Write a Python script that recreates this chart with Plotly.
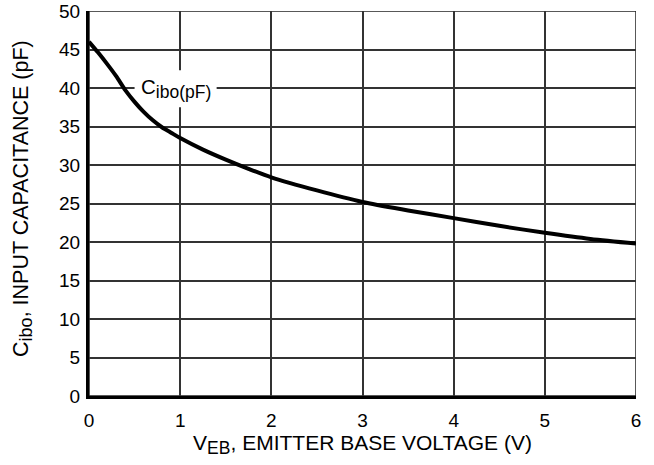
import plotly.graph_objects as go

v_eb = [0, 0.1, 0.2, 0.3, 0.4, 0.5, 0.6, 0.7, 0.8, 0.9, 1.0, 1.25, 1.5, 1.75, 2.0, 2.5, 3.0, 3.5, 4.0, 4.5, 5.0, 5.5, 6.0]
c_ibo = [46.0, 44.6, 43.1, 41.5, 39.7, 38.2, 36.9, 35.8, 34.9, 34.2, 33.5, 32.0, 30.7, 29.5, 28.4, 26.7, 25.2, 24.1, 23.1, 22.1, 21.2, 20.4, 19.8]

x_ticks = [0, 1, 2, 3, 4, 5, 6]
y_ticks = [0, 5, 10, 15, 20, 25, 30, 35, 40, 45, 50]

label_text = "C<sub><span style='font-size:17.5px'>ibo(pF)</span></sub>"
label_x = 0.95
label_y = 39.9

x_title = "V<sub><span style='font-size:17.5px'>EB</span></sub>, EMITTER BASE VOLTAGE (V)"
y_title = "C<sub><span style='font-size:18px'>ibo</span></sub>, INPUT CAPACITANCE (pF)"

font_family = "Liberation Sans, Arial, sans-serif"

fig = go.Figure()
fig.add_trace(go.Scatter(
    x=v_eb, y=c_ibo, mode="lines",
    line=dict(color="black", width=4, shape="spline", smoothing=0.8),
    showlegend=False, hoverinfo="skip",
))

# white patch that breaks the gridlines behind the label (drawn under the curve)
fig.add_shape(type="rect", xref="x", yref="y", x0=0.50, x1=1.40, y0=37.5, y1=42.3,
              fillcolor="white", line=dict(width=0), layer="between")

fig.add_annotation(
    x=label_x, y=label_y, xref="x", yref="y",
    text=label_text, showarrow=False,
    font=dict(family=font_family, size=20.5, color="black"),
)

# y-axis title placed as rotated annotation
fig.add_annotation(
    x=-0.121, y=0.514, xref="paper", yref="paper",
    xanchor="center", yanchor="middle",
    text=y_title, textangle=-90, showarrow=False,
    font=dict(family=font_family, size=21.5, color="black"),
)

fig.add_shape(type="rect", xref="x", yref="y", x0=0, x1=6, y0=0, y1=50,
              line=dict(color="#222222", width=1.5), layer="below")

fig.update_layout(
    width=654, height=465,
    margin=dict(l=89, r=18, t=11, b=69),
    paper_bgcolor="white", plot_bgcolor="white",
    font=dict(family=font_family, size=19, color="black"),
    xaxis=dict(
        range=[0, 6], tickvals=x_ticks, ticktext=[str(t) for t in x_ticks],
        showgrid=True, gridcolor="#333333", gridwidth=1.5,
        showline=True, linecolor="black", linewidth=3,
        zeroline=False, ticks="outside", ticklen=5, tickcolor="rgba(0,0,0,0)",
        automargin=False,
        title=dict(text=x_title, font=dict(size=21), standoff=4),
        tickfont=dict(size=19),
    ),
    yaxis=dict(
        range=[0, 50], tickvals=y_ticks, ticktext=[str(t) for t in y_ticks],
        showgrid=True, gridcolor="#333333", gridwidth=1.5,
        showline=True, linecolor="black", linewidth=3,
        zeroline=False, ticks="outside", ticklen=2, tickcolor="rgba(0,0,0,0)",
        automargin=False,
        tickfont=dict(size=19),
    ),
)

fig.write_html("out.html", config={"displayModeBar": False},
               post_script="document.body.style.margin='0px';")
